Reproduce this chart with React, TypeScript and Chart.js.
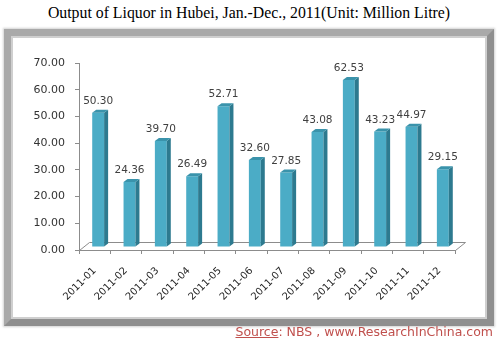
import React, { useEffect, useRef } from 'react';
import { Chart, registerables } from 'chart.js';

Chart.register(...registerables);

const title = 'Output of Liquor in Hubei, Jan.-Dec., 2011(Unit: Million Litre)';
const categories = ['2011-01', '2011-02', '2011-03', '2011-04', '2011-05', '2011-06', '2011-07', '2011-08', '2011-09', '2011-10', '2011-11', '2011-12'];
const liquorOutput = [50.30, 24.36, 39.70, 26.49, 52.71, 32.60, 27.85, 43.08, 62.53, 43.23, 44.97, 29.15];
const yMin = 0;
const yMax = 70;
const yStep = 10;
const sourceLabel = 'Source';
const sourceRest = ': NBS , www.ResearchInChina.com';

const FLOOR_DX = 10;
const FLOOR_DY = -8;
const BAR_DX = 3.5;
const BAR_DY = -3;
const SIDE_DX = 4;
const SIDE_DY = -3;

const FRONT = '#4bacc6';
const SIDE = '#2d7a8f';
const TOP = '#3a93ab';
const AXIS = '#8c8c8c';

const bar3d = {
  id: 'bar3d',
  beforeDatasetsDraw(chart: any) {
    const { ctx, chartArea } = chart;
    const y0 = chart.scales.y.getPixelForValue(0);
    const l = chartArea.left;
    const r = chartArea.right;
    ctx.save();
    ctx.strokeStyle = AXIS;
    ctx.lineWidth = 1;
    ctx.beginPath();
    ctx.moveTo(l + 0.5, y0 + 0.5);
    ctx.lineTo(l + FLOOR_DX + 0.5, y0 + FLOOR_DY + 0.5);
    ctx.lineTo(r + FLOOR_DX + 0.5, y0 + FLOOR_DY + 0.5);
    ctx.lineTo(r + 0.5, y0 + 0.5);
    ctx.stroke();
    ctx.restore();
    ctx.save();
    ctx.translate(BAR_DX, BAR_DY);
  },
  afterDatasetsDraw(chart: any) {
    const ctx = chart.ctx;
    const meta = chart.getDatasetMeta(0);
    meta.data.forEach((bar: any) => {
      const { x, y, base, width } = bar.getProps(['x', 'y', 'base', 'width'], true);
      const left = x - width / 2;
      const right = x + width / 2;
      ctx.fillStyle = SIDE;
      ctx.beginPath();
      ctx.moveTo(right, y);
      ctx.lineTo(right + SIDE_DX, y + SIDE_DY);
      ctx.lineTo(right + SIDE_DX, base + SIDE_DY);
      ctx.lineTo(right, base);
      ctx.closePath();
      ctx.fill();
      ctx.fillStyle = TOP;
      ctx.beginPath();
      ctx.moveTo(left, y);
      ctx.lineTo(left + SIDE_DX, y + SIDE_DY);
      ctx.lineTo(right + SIDE_DX, y + SIDE_DY);
      ctx.lineTo(right, y);
      ctx.closePath();
      ctx.fill();
    });
    ctx.restore();
    ctx.save();
    ctx.font = '10.5px "DejaVu Sans"';
    ctx.fillStyle = '#404040';
    ctx.textAlign = 'center';
    ctx.textBaseline = 'alphabetic';
    meta.data.forEach((bar: any, i: number) => {
      const { x, y } = bar.getProps(['x', 'y'], true);
      ctx.fillText(liquorOutput[i].toFixed(2), x + BAR_DX, y + BAR_DY - 9);
    });
    ctx.restore();
  },
};

export default function App() {
  const ref = useRef<HTMLCanvasElement>(null);
  useEffect(() => {
    const chart = new Chart(ref.current as HTMLCanvasElement, {
      type: 'bar',
      data: {
        labels: categories,
        datasets: [
          {
            data: liquorOutput,
            backgroundColor: FRONT,
            borderWidth: 0,
            barPercentage: 0.38,
            categoryPercentage: 1,
          },
        ],
      },
      options: {
        responsive: false,
        animation: false,
        events: [],
        layout: { padding: { left: 19, right: 43, top: 63, bottom: 35 } },
        plugins: { legend: { display: false }, title: { display: false }, tooltip: { enabled: false } },
        scales: {
          x: {
            grid: { display: true, drawOnChartArea: false, drawTicks: true, tickLength: 4, color: AXIS, offset: true },
            border: { display: true, color: AXIS },
            ticks: {
              autoSkip: false,
              maxRotation: 45,
              minRotation: 45,
              padding: 11,
              color: '#262626',
              font: { family: 'DejaVu Sans', size: 10 },
            },
            afterFit: (s: any) => {
              s.height = 60;
            },
          },
          y: {
            min: yMin,
            max: yMax,
            grid: { display: true, drawOnChartArea: false, drawTicks: true, tickLength: 4, color: AXIS },
            border: { display: true, color: AXIS },
            ticks: {
              stepSize: yStep,
              padding: 10,
              color: '#333333',
              font: { family: 'DejaVu Sans', size: 11 },
              callback: (v: any) => Number(v).toFixed(2),
            },
            afterFit: (s: any) => {
              s.width = 60;
            },
          },
        },
      },
      plugins: [bar3d],
    });
    return () => chart.destroy();
  }, []);

  return (
    <div style={{ position: 'absolute', left: 0, top: 0, width: 498, height: 345, background: '#ffffff', overflow: 'hidden' }}>
      <div
        style={{
          position: 'absolute',
          left: 0,
          top: 5,
          width: 498,
          textAlign: 'center',
          whiteSpace: 'nowrap',
          fontFamily: '"Liberation Serif", serif',
          fontSize: 15.8,
          lineHeight: '16px',
          color: '#000000',
        }}
      >
        {title}
      </div>
      <div
        style={{
          position: 'absolute',
          left: 4,
          top: 29,
          width: 490,
          height: 297,
          boxSizing: 'border-box',
          border: '9px solid',
          borderColor: '#a9a9a9 #8f8f8f #8f8f8f #a9a9a9',
          boxShadow: '0 0 2px 1px rgba(0,0,0,0.18)',
        }}
      >
        <div style={{ position: 'absolute', inset: 0, background: '#ffffff', boxShadow: '0 0 0 2px #cfcfcf' }} />
      </div>
      <canvas ref={ref} width={498} height={345} style={{ position: 'absolute', left: 0, top: 0, width: 498, height: 345 }} />
      <div
        style={{
          position: 'absolute',
          right: 5,
          top: 326,
          whiteSpace: 'nowrap',
          fontFamily: '"DejaVu Sans", sans-serif',
          fontSize: 12.5,
          lineHeight: '12.5px',
          color: '#c0504d',
        }}
      >
        <span style={{ textDecoration: 'underline' }}>{sourceLabel}</span>
        {sourceRest}
      </div>
    </div>
  );
}
